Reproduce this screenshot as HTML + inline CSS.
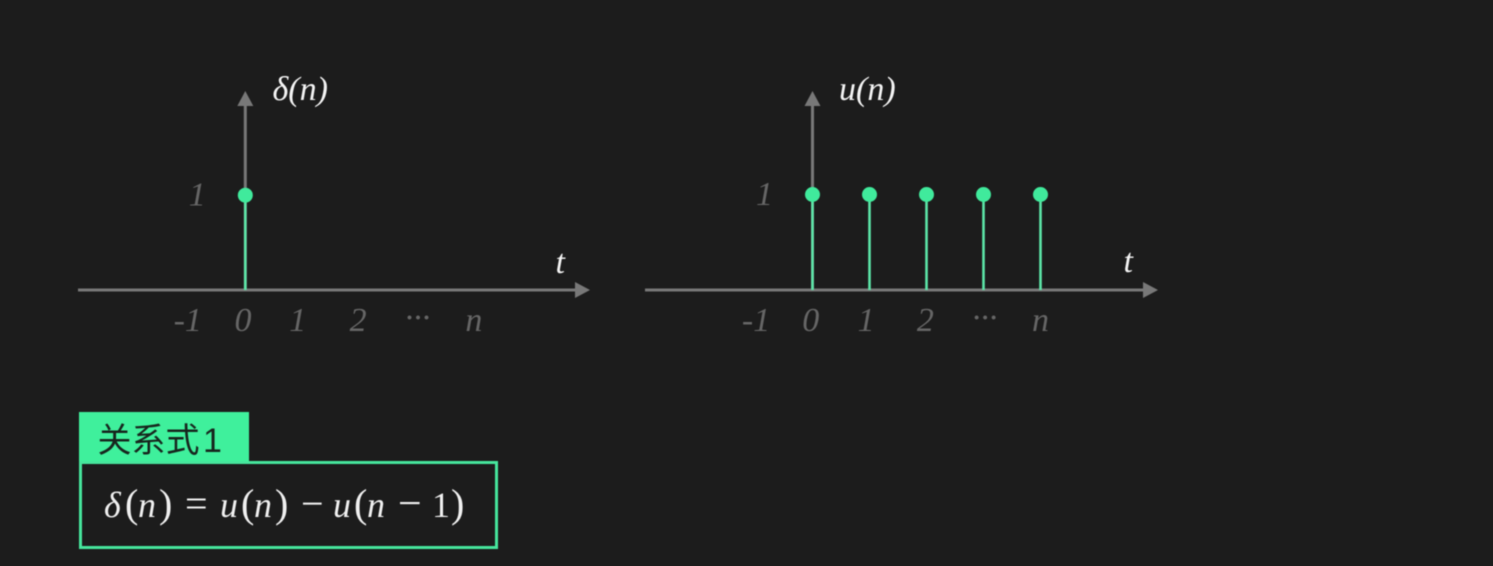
<!DOCTYPE html>
<html lang="zh">
<head>
<meta charset="utf-8">
<title>Unit impulse and unit step</title>
<style>
html,body{margin:0;padding:0;background:#1c1c1c;width:1493px;height:566px;overflow:hidden}
svg{display:block;filter:blur(.45px)}
.serif{font-family:"Liberation Serif","Noto Serif CJK SC",serif}
</style>
</head>
<body>
<svg id="stage" xmlns="http://www.w3.org/2000/svg" width="1493" height="566" viewBox="0 0 1493 566">
  <rect x="0" y="0" width="1493" height="566" fill="#1c1c1c"/>
  <g id="chart-left"></g>
  <g id="chart-right"></g>

  <rect x="79" y="412" width="170" height="52" fill="#3ff09c"/>
  <text y="452" font-size="34" font-weight="400" fill="#17261e" style="font-family:'Liberation Sans','Noto Sans CJK SC',sans-serif"><tspan x="97.5">关系式</tspan><tspan x="203">1</tspan></text>
  <rect x="80.5" y="462.5" width="416" height="85" fill="#1c1c1c" stroke="#46e59c" stroke-width="3"/>
  <text class="serif" y="517" font-size="36" fill="#f0f0f0"><tspan x="104" font-style="italic">δ</tspan><tspan x="125" font-size="40">(</tspan><tspan x="138" font-style="italic">n</tspan><tspan x="159" font-size="40">)</tspan><tspan x="185" font-size="40">=</tspan><tspan x="220" font-style="italic">u</tspan><tspan x="241" font-size="40">(</tspan><tspan x="254" font-style="italic">n</tspan><tspan x="275" font-size="40">)</tspan><tspan x="301" font-size="40">−</tspan><tspan x="333" font-style="italic">u</tspan><tspan x="354" font-size="40">(</tspan><tspan x="367" font-style="italic">n</tspan><tspan x="398" font-size="42">−</tspan><tspan x="432">1</tspan><tspan x="451" font-size="40">)</tspan></text>
</svg>
<script>
var tickLabels = ['-1', '0', '1', '2', '···', 'n'];
var leftTickUnits = [-1.01, -0.04, 0.92, 1.98, 3.02, 4.01];
var rightTickUnits = [-0.99, -0.03, 0.94, 1.98, 3.02, 4];
var deltaIndices = [0];
var deltaValues = [1];
var stepIndices = [0, 1, 2, 3, 4];
var stepValues = [1, 1, 1, 1, 1];

var NS = 'http://www.w3.org/2000/svg';
var AXIS = '#787878', GREEN = '#40ea9c', STEM = '#5ce6a8', MUTED = '#666666';
var UNIT_X = 57, BASE_Y = 290;

function make(parent, tag, attrs, text) {
  var el = document.createElementNS(NS, tag);
  for (var k in attrs) el.setAttribute(k, attrs[k]);
  if (text !== undefined) el.textContent = text;
  parent.appendChild(el);
  return el;
}

function drawChart(id, originX, unitY, left, right, title, titleX, tX, tY, indices, values, tickUnits) {
  var g = document.getElementById(id);
  function xScale(v) { return originX + v * UNIT_X; }
  function yScale(v) { return BASE_Y - v * unitY; }

  var xAxis = make(g, 'line', {x1: left, y1: BASE_Y, x2: right - 12, y2: BASE_Y, stroke: AXIS, 'stroke-width': 3});
  
  
  var xHead = make(g, 'polygon', {points: (right - 15) + ',' + (BASE_Y - 8) + ' ' + right + ',' + BASE_Y + ' ' + (right - 15) + ',' + (BASE_Y + 8), fill: AXIS});
  
  
  var yAxis = make(g, 'line', {x1: originX, y1: BASE_Y, x2: originX, y2: 104, stroke: AXIS, 'stroke-width': 3});
  
  
  var yHead = make(g, 'polygon', {points: (originX - 8) + ',106 ' + originX + ',91 ' + (originX + 8) + ',106', fill: AXIS});
  
  

  var yTitle = make(g, 'text', {x: titleX, y: 100, 'class': 'serif', 'font-size': 34, 'font-style': 'italic', fill: '#f4f4f4'}, title);
  
  
  var xTitle = make(g, 'text', {x: tX, y: tY, 'class': 'serif', 'font-size': 34, 'font-style': 'italic', fill: '#f4f4f4'}, 't');
  
  
  var yTick = make(g, 'text', {x: originX - 48, y: yScale(1) + 10.5, 'class': 'serif', 'font-size': 34, 'font-style': 'italic', fill: MUTED, 'text-anchor': 'middle'}, '1');
  
  

  tickLabels.forEach(function (label, i) {
    var t = make(g, 'text', {x: xScale(tickUnits[i]), y: label === '···' ? 328.5 : 331, 'class': 'serif', 'font-size': 34, 'font-style': 'italic', fill: MUTED, 'text-anchor': 'middle'}, label);
    
    
  });

  indices.forEach(function (n, i) {
    var stem = make(g, 'line', {x1: xScale(n), y1: yScale(0), x2: xScale(n), y2: yScale(values[i]), stroke: STEM, 'stroke-width': 2.6});
    
    
    var dot = make(g, 'circle', {cx: xScale(n), cy: yScale(values[i]), r: 7.5, fill: GREEN});
    
    
  });
}

drawChart('chart-left', 245.3, 94.8, 78, 590, 'δ(n)', 272.5, 555.5, 273, deltaIndices, deltaValues, leftTickUnits);
drawChart('chart-right', 812.5, 95.5, 645, 1158, 'u(n)', 839, 1123.5, 272, stepIndices, stepValues, rightTickUnits);
</script>
</body>
</html>
